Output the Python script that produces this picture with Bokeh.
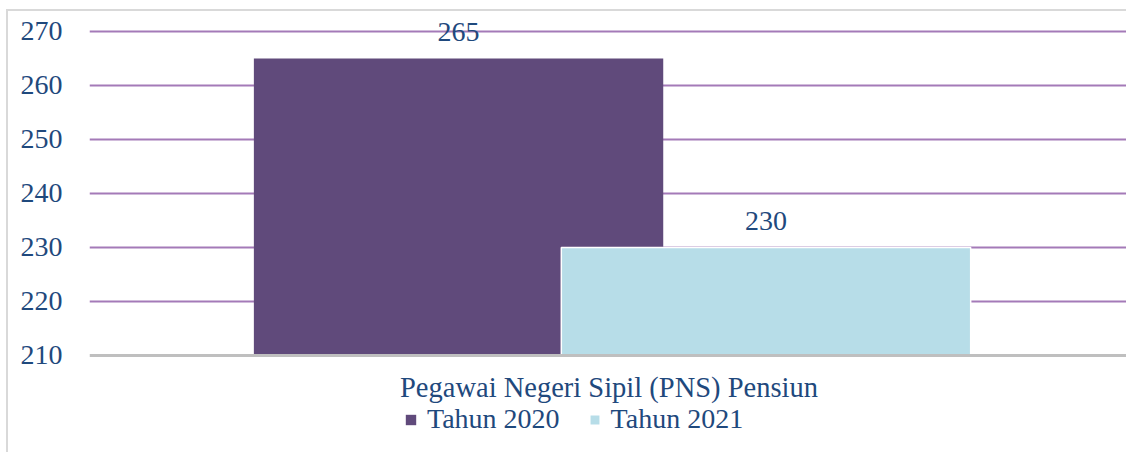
from bokeh.plotting import figure
from bokeh.models import (Range1d, FactorRange, FixedTicker, ColumnDataSource,
                          LabelSet, Legend, LegendItem)
from bokeh.transform import dodge
from bokeh.embed import file_html
from bokeh.resources import INLINE

# ---- data ----
category = ["Pegawai Negeri Sipil (PNS) Pensiun"]
series_names = ["Tahun 2020", "Tahun 2021"]
values_2020 = [265]
values_2021 = [230]
y_ticks = [210, 220, 230, 240, 250, 260, 270]

FONT = "Liberation Serif"
TEXT = "#1F497D"
C2020 = "#604A7B"
C2021 = "#B7DDE8"
GRID = "#A47AB8"
BASE = 210

p = figure(width=1120, height=443,
           x_range=FactorRange(factors=category),
           y_range=Range1d(191.66, 273.70),
           output_backend="svg", toolbar_location=None,
           min_border_left=81, min_border_right=0,
           min_border_top=0, min_border_bottom=0)
p.styles = {"margin-left": "6px", "margin-top": "9px",
            "border-left": "2px solid #D9D9D9", "border-top": "2px solid #D9D9D9"}
p.outline_line_color = None

src20 = ColumnDataSource(dict(cat=category, val=values_2020,
                              lbl=[str(v) for v in values_2020]))
src21 = ColumnDataSource(dict(cat=category, val=values_2021,
                              lbl=[str(v) for v in values_2021]))

W = 0.394
OFF20, OFF21 = -0.1448, 0.1511
r1 = p.vbar(x=dodge("cat", OFF20, range=p.x_range), top="val", bottom=BASE,
            width=W, source=src20, fill_color=C2020, line_color=None)
r2 = p.vbar(x=dodge("cat", OFF21, range=p.x_range), top="val", bottom=BASE,
            width=W, source=src21, fill_color=C2021, line_color="white",
            line_width=1.5)

for src, off in ((src20, OFF20), (src21, OFF21)):
    p.add_layout(LabelSet(x=dodge("cat", off, range=p.x_range), y="val",
                          text="lbl", source=src, y_offset=17,
                          text_align="center", text_baseline="alphabetic",
                          text_font=FONT, text_font_size="28px",
                          text_color=TEXT))

# grid
p.xgrid.visible = False
p.ygrid.ticker = FixedTicker(ticks=y_ticks[1:])
p.ygrid.grid_line_color = GRID
p.ygrid.grid_line_width = 2

# y axis
p.yaxis.ticker = FixedTicker(ticks=y_ticks)
p.yaxis.axis_line_color = None
p.yaxis.major_tick_line_color = None
p.yaxis.minor_tick_line_color = None
p.yaxis.major_label_standoff = 21
p.yaxis.major_label_text_font = FONT
p.yaxis.major_label_text_font_size = "28px"
p.yaxis.major_label_text_color = TEXT

# x axis (category axis sits on the 210 baseline)
p.xaxis.fixed_location = BASE
p.xaxis.axis_line_color = "#BFBFBF"
p.xaxis.axis_line_width = 3
p.xaxis.major_tick_line_color = None
p.xaxis.minor_tick_line_color = None
p.xaxis.major_label_standoff = 11
p.xaxis.major_label_text_font = FONT
p.xaxis.major_label_text_font_size = "28.5px"
p.xaxis.major_label_text_color = TEXT

legend = Legend(items=[LegendItem(label=series_names[0], renderers=[r1]),
                       LegendItem(label=series_names[1], renderers=[r2])],
                orientation="horizontal", location=(315, 19),
                padding=0, margin=0, spacing=28, label_standoff=10,
                glyph_width=13, glyph_height=13, label_height=26,
                label_text_font=FONT, label_text_font_size="28px",
                label_text_color=TEXT, border_line_color=None,
                background_fill_alpha=0)
p.add_layout(legend, "center")

open("out.html", "w").write(file_html(p, INLINE))
